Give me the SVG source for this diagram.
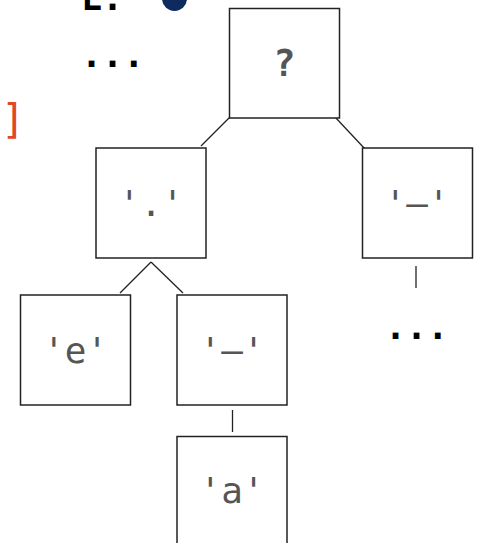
<svg xmlns="http://www.w3.org/2000/svg" width="477" height="543" viewBox="0 0 477 543">
<style>
.box{fill:#fff;stroke:#222;stroke-width:1.5}
.lbl{font-family:"DejaVu Sans Mono","Liberation Mono",monospace;font-size:36px;fill:#555;text-anchor:middle}
.q{font-family:"DejaVu Sans Mono","Liberation Mono",monospace;font-size:37px;font-weight:bold;fill:#555;text-anchor:middle}
.blk{font-family:"DejaVu Sans Mono","Liberation Mono",monospace;font-size:35px;font-weight:bold;fill:#000}
.edge{stroke:#222;stroke-width:1.3;fill:none}
</style>
<rect width="477" height="543" fill="#fff"/>
<text class="blk" x="81" y="10">L.</text>
<circle cx="174.5" cy="-1.5" r="12.5" fill="#0d2b5e"/>
<text class="blk" x="81" y="67">...</text>
<text x="1" y="133" font-family="DejaVu Sans Mono, monospace" font-size="40" fill="#e0462a">]</text>
<g id="connectors">
<line class="edge" x1="231" y1="116" x2="201" y2="146"/>
<line class="edge" x1="335" y1="117" x2="365" y2="149"/>
<line class="edge" x1="120" y1="293" x2="151" y2="262"/>
<line class="edge" x1="151" y1="262" x2="183" y2="293"/>
<line class="edge" x1="416" y1="266" x2="416" y2="288"/>
<line class="edge" x1="232.5" y1="410" x2="232.5" y2="432"/>
</g>
<g id="node-root"><rect class="box" x="229.5" y="8.5" width="110" height="109.5"/><text class="q" x="284.5" y="76">?</text></g>
<g id="node-dot"><rect class="box" x="96" y="148" width="110" height="110"/><text class="lbl" x="151" y="216">'.'</text></g>
<g id="node-right"><rect class="box" x="362.5" y="148" width="110" height="110"/><text class="lbl" x="417" y="216">'–'</text></g>
<text class="blk" x="385" y="339">...</text>
<g id="node-e"><rect class="box" x="20.5" y="295" width="110" height="110"/><text class="lbl" x="75.5" y="363">'e'</text></g>
<g id="node-mid"><rect class="box" x="177" y="295" width="110" height="110"/><text class="lbl" x="232" y="363">'–'</text></g>
<g id="node-a"><rect class="box" x="177" y="436.5" width="110" height="120"/><text class="lbl" x="232" y="503">'a'</text></g>
</svg>
